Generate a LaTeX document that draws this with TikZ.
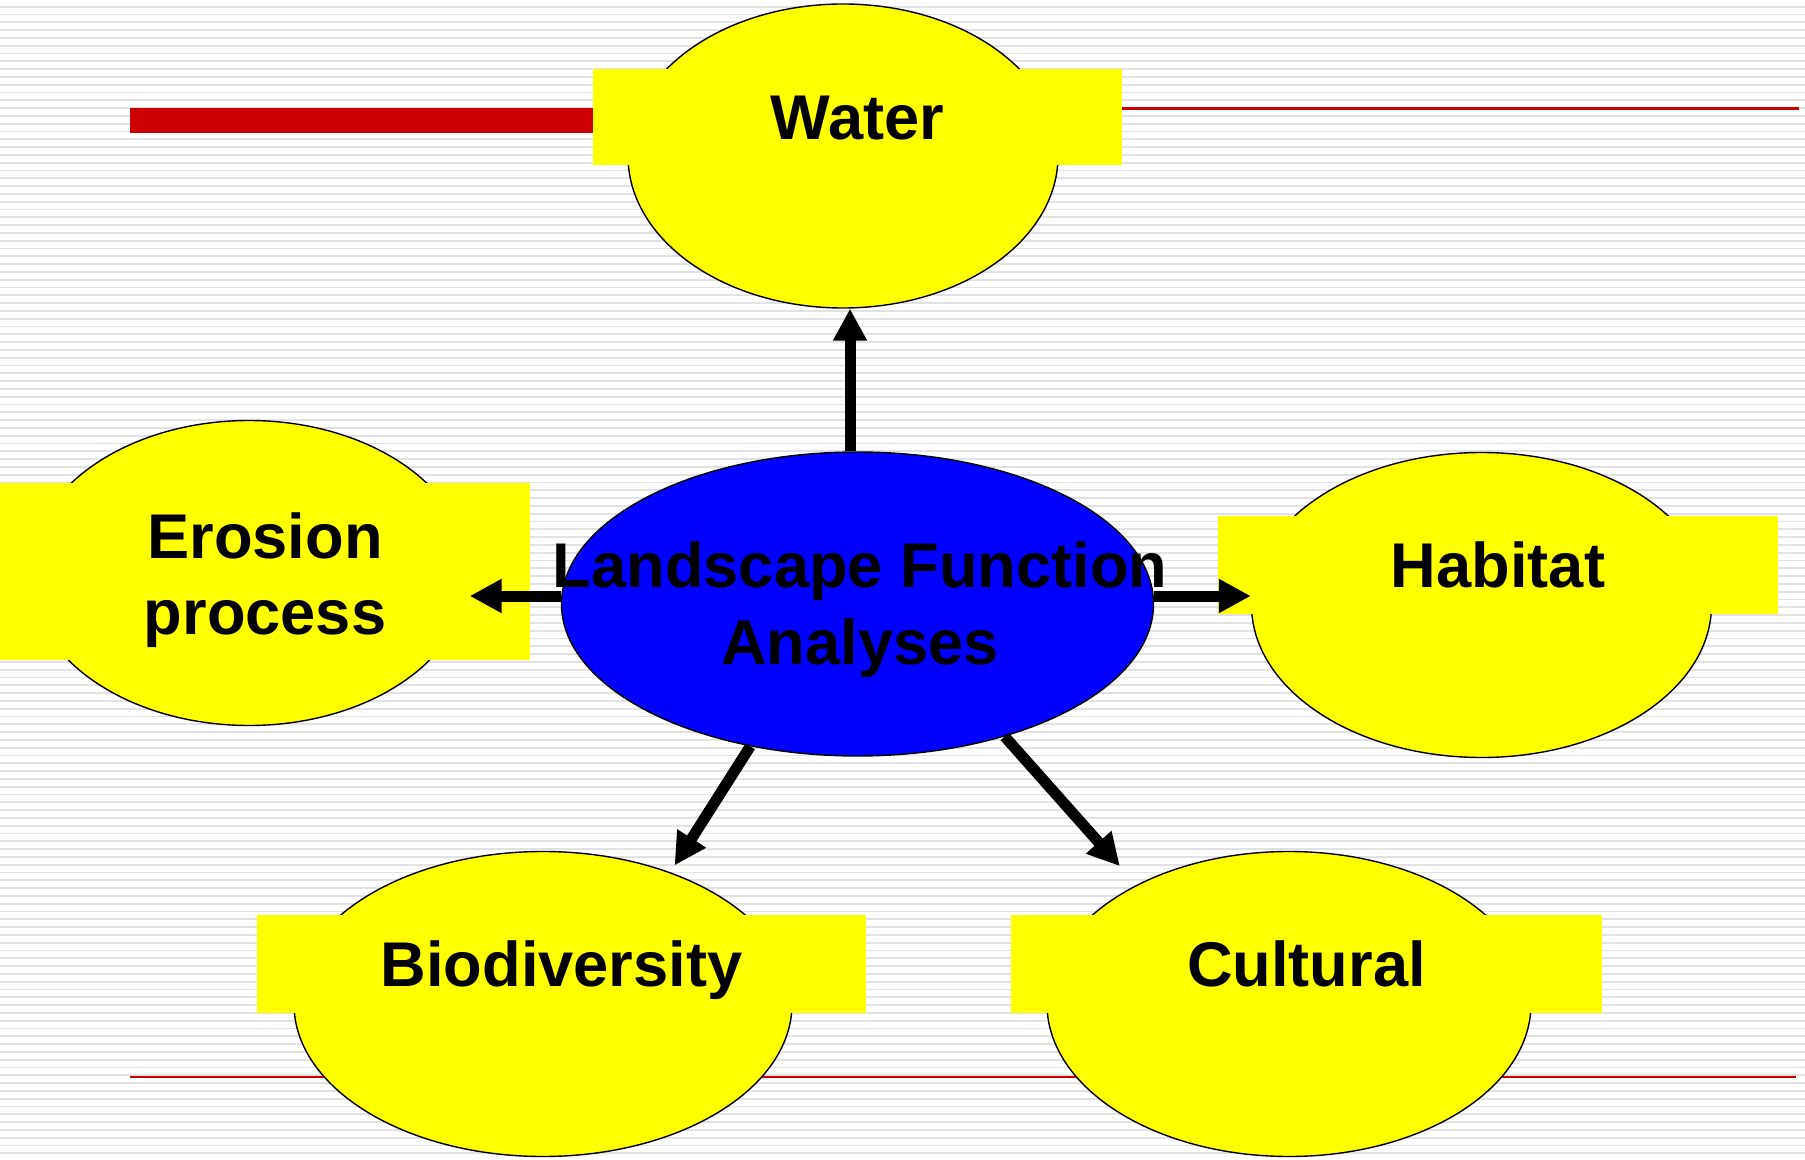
\documentclass[tikz,border=0pt]{standalone}
\usepackage{fontspec}
\setmainfont{Liberation Sans}
\usetikzlibrary{arrows.meta,shapes.geometric}
\definecolor{slideRed}{RGB}{204,0,0}
\definecolor{ovalYellow}{RGB}{255,255,0}
\definecolor{stripeGray}{RGB}{226,226,226}
\tikzset{>/.tip={Triangle[length=16pt,width=16pt]},
  stripe/.style={stripeGray, line width=0.9pt},
  oval/.style={ellipse, draw=black, line width=0.7pt, fill=ovalYellow, inner sep=0pt},
  labelbox/.style={rectangle, fill=ovalYellow, inner sep=0pt, align=center,
    text height=22.5pt, text depth=0pt,
    font=\fontsize{31.6}{38}\selectfont\bfseries},
  flow/.style={->, line width=5.5pt}}

\begin{document}
\begin{tikzpicture}[x=0.5pt,y=-0.5pt]
\useasboundingbox (0,0) rectangle (1805,1160);
% striped background
\foreach \k in {0,...,147}
{
  \draw[stripe] (0,{6.7+7.8*\k}) -- (1805,{6.7+7.8*\k});
}
% title rules
\fill[slideRed] (130,108) rectangle (593,133);
\draw[slideRed, line width=1.5pt] (1122,109) -- (1799,109);
\draw[slideRed, line width=1pt] (130,1077) -- (1796,1077);
% outer ovals
\node[oval, minimum width=215pt, minimum height=152pt] (water) at (843,156) {};
\node[oval, minimum width=220pt, minimum height=152.5pt] (erosion) at (249,573) {};
\node[oval, minimum width=230pt, minimum height=152.5pt] (habitat) at (1481.5,605) {};
\node[oval, minimum width=249pt, minimum height=152.5pt] (biodiv) at (543,1004) {};
\node[oval, minimum width=242pt, minimum height=152.5pt] (cultural) at (1289,1004) {};
% labels
\node[labelbox, minimum width=264.5pt, minimum height=48pt] (waterLabel) at (857.5,117) {Water};
\node[labelbox, minimum width=265pt, minimum height=88.5pt, text height=63pt, text depth=0pt] (erosionLabel) at (265,571.5) {Erosion\\process};
\node[labelbox, minimum width=280pt, minimum height=49pt] (habitatLabel) at (1498,565) {Habitat};
\node[labelbox, minimum width=304.5pt, minimum height=49pt] (biodivLabel) at (561.5,964) {Biodiversity};
\node[labelbox, minimum width=295.5pt, minimum height=49pt] (culturalLabel) at (1306.5,964) {Cultural};
% centre
\node[oval, fill=blue, minimum width=296pt, minimum height=152pt] (lfa) at (857.5,604) {};
\node[align=center, inner sep=0pt, font=\fontsize{31.6}{38.5}\selectfont\bfseries] (lfaLabel) at (860,610) {Landscape Function\\Analyses};
% arrows
\draw[flow] ([xshift=-3.75pt]lfa.north) -- ([xshift=-3.75pt]lfa.north |- water.south);
\draw[flow] ([yshift=4pt]lfa.west) -- ([yshift=4pt]lfa.west -| erosion.east);
\draw[flow] ([yshift=4pt]lfa.east) -- ([yshift=4pt]lfa.east -| habitat.west);
\draw[flow, shorten >=4pt] (lfa.233) -- (biodiv.46);
\draw[flow, shorten >=12.5pt] (lfa.318) -- (cultural.142);
\end{tikzpicture}
\end{document}
